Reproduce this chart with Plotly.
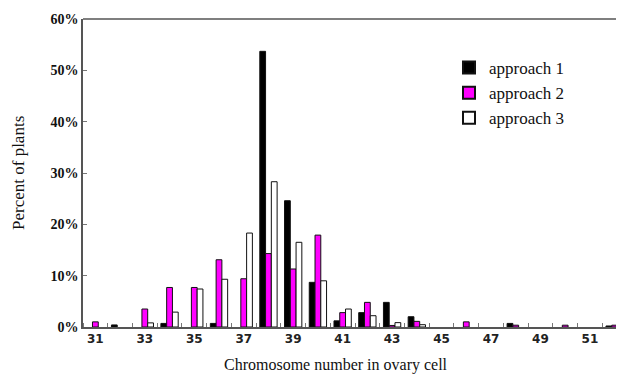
import plotly.graph_objects as go

chromosomes = list(range(31, 53))
approach1 = [0, 0.4, 0, 0.7, 0, 0.7, 0, 53.7, 24.6, 8.7, 1.2, 2.8, 4.8, 2.0, 0, 0, 0, 0.7, 0, 0, 0, 0.2]
approach2 = [1.0, 0, 3.5, 7.7, 7.7, 13.1, 9.4, 14.3, 11.3, 17.9, 2.8, 4.8, 0.3, 1.1, 0, 1.0, 0, 0.35, 0, 0.35, 0, 0.35]
approach3 = [0, 0, 0.8, 2.9, 7.4, 9.3, 18.3, 28.3, 16.5, 9.0, 3.5, 2.2, 0.85, 0.45, 0, 0, 0, 0, 0, 0, 0, 0]
xtick_labels = [str(v) for v in range(31, 53, 2)]
ytick_vals = [0, 10, 20, 30, 40, 50, 60]

serif = "Liberation Serif"

# page body has an 8px offset; margins compensate
L, T, R, B = 75, 11, 5, 64
PW = 624 - L - R
PH = 383 - T - B

fig = go.Figure()
for name, vals, col in [("approach 1", approach1, "#000000"),
                        ("approach 2", approach2, "#FF00FF"),
                        ("approach 3", approach3, "#FFFFFF")]:
    widths = [1 if v > 0 else 0 for v in vals]
    fig.add_trace(go.Bar(x=chromosomes, y=vals, name=name,
                         marker=dict(color=col, line=dict(color="#111111", width=widths))))

fig.update_layout(
    width=624, height=383,
    margin=dict(l=L, r=R, t=T, b=B),
    paper_bgcolor="white", plot_bgcolor="white",
    barmode="group", bargap=0.3, bargroupgap=0,
    showlegend=True,
    legend=dict(x=(441 - L) / PW, y=1 - (42 - T) / PH, xanchor="left", yanchor="top",
                font=dict(family=serif, size=17, color="#111"),
                bgcolor="rgba(0,0,0,0)", itemsizing="constant"),
    font=dict(family=serif, color="#111"),
    shapes=[dict(type="line", xref="paper", yref="paper", x0=0, x1=1, y0=1, y1=1,
                 line=dict(color="#555", width=1.5))],
    annotations=[
        dict(text="Chromosome number in ovary cell", xref="paper", yref="paper",
             x=(328 - L) / PW, y=-(357 - (T + PH)) / PH, xanchor="center", yanchor="middle",
             showarrow=False, font=dict(family=serif, size=16, color="#111")),
        dict(text="Percent of plants", xref="paper", yref="paper",
             x=-(L - 10) / PW, y=0.5, xanchor="center", yanchor="middle", textangle=-90,
             showarrow=False, font=dict(family=serif, size=17, color="#111")),
    ],
)
fig.update_xaxes(
    range=[30.5, 52.5], automargin=False,
    tickmode="array", tickvals=list(range(31, 53, 2)), ticktext=xtick_labels,
    ticks="", tickfont=dict(family="DejaVu Sans", size=12, color="#222", weight="bold"),
    minor=dict(tick0=30.5, dtick=1, ticks="inside", ticklen=4, tickcolor="#777"),
    showline=True, linecolor="#555", linewidth=1.5, mirror=False,
    showgrid=False, zeroline=False,
)
fig.update_yaxes(
    range=[0, 60], automargin=False,
    tickmode="array", tickvals=ytick_vals, ticktext=[f"{v}%" for v in ytick_vals],
    ticks="inside", ticklen=4, tickcolor="#777",
    tickfont=dict(family=serif, size=14, color="#111", weight="bold"),
    showline=True, linecolor="#555", linewidth=1.5, mirror=False,
    showgrid=False, zeroline=False,
)
fig.write_html("out.html")
